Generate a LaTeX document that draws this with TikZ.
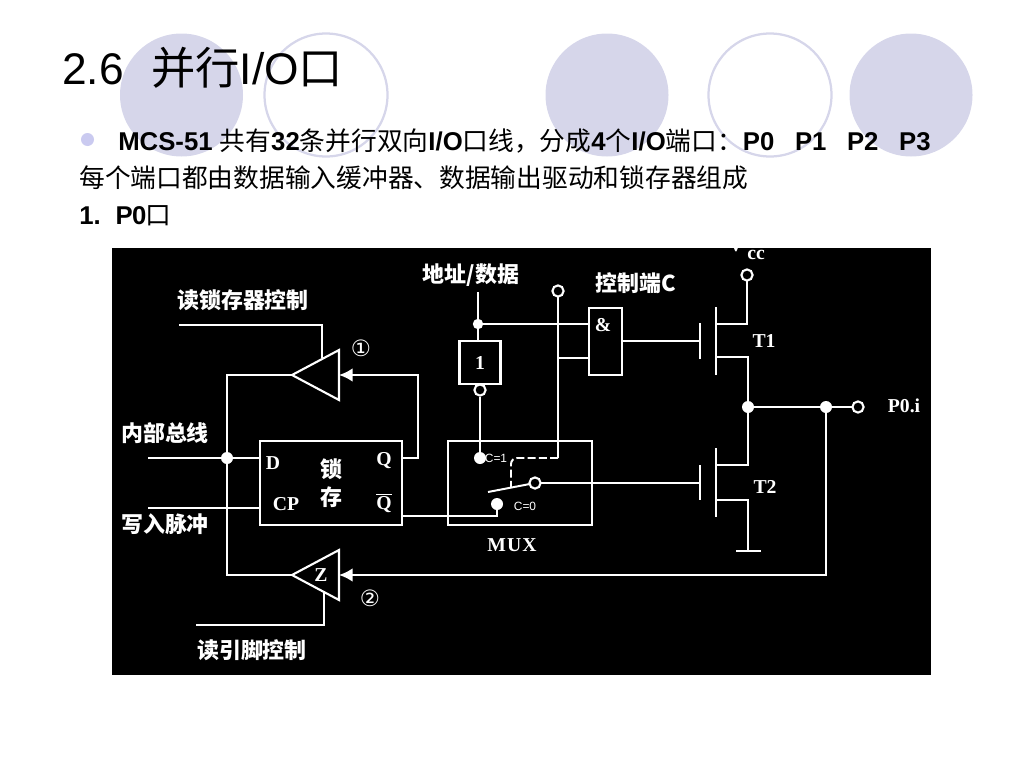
\documentclass[tikz,border=0pt]{standalone}
\usepackage{fontspec}
\usetikzlibrary{arrows.meta,shapes.geometric}
\setmainfont{Liberation Sans}
\newfontfamily\cjk{Noto Sans CJK SC}
\newfontfamily\wiring{Liberation Serif}
\definecolor{deco}{RGB}{214,214,234}
\definecolor{bulletc}{RGB}{202,202,240}
\newcommand{\titlefont}{\fontsize{31.5pt}{34pt}\selectfont}
\newcommand{\bodyfont}{\fontsize{18.3pt}{20pt}\selectfont}
\tikzset{
  wire/.style={draw=white,line width=1.4pt},
  box/.style={draw=white,line width=1.5pt,inner sep=0pt,outer sep=0pt},
  buffer/.style={box,isosceles triangle,isosceles triangle stretches,shape border rotate=180,
    minimum width=12.5mm,minimum height=11.75mm},
  term/.style={circle,draw=white,fill=black,line width=1.5pt,minimum size=2.8mm,inner sep=0pt,outer sep=0pt},
  dot/.style={circle,fill=white,minimum size=3mm,inner sep=0pt,outer sep=0pt},
  slide/.style={anchor=base west,inner sep=0pt,text=black},
  cnlabel/.style={text=white,inner sep=0pt,font=\cjk\bfseries\fontsize{15.6pt}{16pt}\selectfont},
  serif/.style={text=white,inner sep=0pt,font=\wiring\bfseries\fontsize{14pt}{15pt}\selectfont},
  small/.style={text=white,inner sep=0pt,font=\fontsize{8.5pt}{9pt}\selectfont},
  ringed/.style={text=white,inner sep=0pt,font=\fontsize{16pt}{17pt}\selectfont\fontspec{DejaVu Sans}},
  arrowin/.style={-{Latex[length=3.4mm,width=3.4mm]}}
}
\begin{document}
\begin{tikzpicture}[x=0.25mm,y=-0.25mm]
  \useasboundingbox (0,0) rectangle (1024,768);
  % Decoration of the slide
  \fill[deco] (181.5,95) circle (61.5);
  \draw[deco,line width=1.6pt] (326,95) circle (61.5);
  \fill[deco] (607,95) circle (61.5);
  \draw[deco,line width=1.6pt] (770,95) circle (61.5);
  \fill[deco] (911,95) circle (61.5);
  \fill[bulletc] (87.5,139.5) circle (6.5);

  % Slide text
  \node[slide,font=\titlefont] (title) at (62,84) {2.6\hspace{0.62em}{\cjk 并行}I/O{\cjk 口}};
  \node[slide,font=\bodyfont\bfseries] (line1) at (118,150) {MCS-51 {\cjk\mdseries 共有}32{\cjk\mdseries 条并行双向}I/O{\cjk\mdseries 口线，分成}4{\cjk\mdseries 个}I/O{\cjk\mdseries 端口：}P0\hspace{0.8em}P1\hspace{0.8em}P2\hspace{0.8em}P3};
  \node[slide,font=\bodyfont\cjk] (line2) at (79,187) {每个端口都由数据输入缓冲器、数据输出驱动和锁存器组成};
  \node[slide,font=\bodyfont\bfseries] (line3) at (79,224) {1.\hspace{0.58em}P\kern-0.5pt 0{\cjk\mdseries\kern-0.5pt 口}};

  % Black panel of the circuit
  \fill[black] (112,248) rectangle (931,675);

  % Blocks
  \node[box,minimum width=35.5mm,minimum height=21mm] (latch) at (331,483) {};
  \node[box,minimum width=36mm,minimum height=21mm] (mux) at (520,483) {};
  \node[box,minimum width=10.25mm,minimum height=10.75mm,text=white,font=\wiring\bfseries\fontsize{14pt}{15pt}\selectfont] (inv) at (480,362.5) {1};
  \node[box,minimum width=8.25mm,minimum height=16.75mm] (andg) at (605.5,341.5) {};
  \node[buffer] (bufa) at (324,375) {};
  \node[buffer] (bufb) at (324,575) {};

  % Dots and terminals
  \node[dot] (busdot) at (227,458) {};
  \node[dot,minimum size=2.6mm] (addrdot) at (478,324) {};
  \node[circle,draw=white,line width=1.5pt,minimum size=2.8mm,inner sep=0pt] (bubble) at (480,390) {};
  \node[dot] (cone) at (480,458) {};
  \node[dot] (czero) at (497,504) {};
  \node[term] (ctrl) at (558,291) {};
  \node[term] (swpole) at (535,483) {};
  \node[term] (vcc) at (747,275) {};
  \node[dot] (middot) at (748,407) {};
  \node[dot] (outdot) at (826,407) {};
  \node[term] (pin) at (858,407) {};

  % Free ends and corners
  \coordinate (rlstart) at (179,325);
  \coordinate (rlend) at (322,358);
  \coordinate (rpstart) at (196,625);
  \coordinate (rpend) at (324,592);
  \coordinate (busin) at (148,458);
  \coordinate (cpin) at (148,508);
  \coordinate (latchd) at (260,458);
  \coordinate (latchcp) at (260,508);
  \coordinate (latchq) at (402,458);
  \coordinate (latchnq) at (402,516);
  \coordinate (andin) at (589,324);
  \coordinate (andlow) at (589,358);
  \coordinate (ctrljoin) at (558,358);
  \coordinate (ctrlend) at (558,458);
  \coordinate (swfree) at (488,492);
  \coordinate (swblade) at (511,487);

  % MOS transistors
  \coordinate (tagate) at (700,341);
  \coordinate (tbgate) at (700,483);
  \draw[wire,line width=1.8pt] (700,323) -- (700,359); % gate T1
  \draw[wire,line width=1.8pt] (716,307) -- (716,375); % channel T1
  \draw[wire,line width=1.8pt] (700,465) -- (700,500); % gate T2
  \draw[wire,line width=1.8pt] (716,448) -- (716,517); % channel T2
  \coordinate (tas) at (716,324);
  \coordinate (tad) at (716,357);
  \coordinate (tbs) at (716,465);
  \coordinate (tbd) at (716,500);
  \coordinate (gnd) at (748,551);

  % Connectors
  \draw[wire] (rlstart) -| (rlend);
  \draw[wire] (rpstart) -| (rpend);
  \draw[wire] (bufa.apex) -| (busdot);
  \draw[wire] (busdot) |- (bufb.apex);
  \draw[wire] (busin) -- (busdot);
  \draw[wire] (busdot) -- (latchd);
  \draw[wire] (cpin) -- (latchcp);
  \draw[wire,arrowin] (latchq) -| (418,375) -- (bufa.lower side);
  \draw[wire] (latchnq) -| (czero);
  \draw[wire,arrowin] (outdot) |- (bufb.lower side);

  \draw[wire] (478,292) -- (addrdot);
  \draw[wire] (addrdot) -- (inv.north -| addrdot);
  \draw[wire] (addrdot) -- (andin);
  \draw[wire] (inv.south -| bubble) -- (bubble);
  \draw[wire] (bubble) -- (cone);
  \draw[wire] (ctrl) -- (ctrlend);
  \draw[wire] (ctrljoin) -- (andlow);
  \draw[wire,dashed,rounded corners=1.5mm,dash pattern=on 2mm off 0.8mm] (ctrlend) -| (swblade);
  \draw[wire] (swfree) -- (swpole);
  \draw[wire] (swpole) -- (tbgate);
  \draw[wire] (andg.east |- tagate) -- (tagate);

  \draw[wire] (vcc) |- (tas);
  \draw[wire] (tad) -| (middot);
  \draw[wire] (middot) |- (tbs);
  \draw[wire] (tbd) -| (gnd);
  \draw[wire,line width=1.6pt] (736,551) -- (761,551);
  \draw[wire] (middot) -- (outdot);
  \draw[wire] (outdot) -- (pin);

  % Labels of the circuit
  \node[cnlabel] (lblrl) at (243,300) {读锁存器控制};
  \node[cnlabel] (lblbus) at (165,433) {内部总线};
  \node[cnlabel] (lblwr) at (165,524) {写入脉冲};
  \node[cnlabel] (lblrp) at (252,650) {读引脚控制};
  \node[cnlabel] (lbladdr) at (471,275) {地址/数据};
  \node[cnlabel] (lblc) at (636,283) {控制端C};
  \node[cnlabel] (lbllocka) at (331,469) {锁};
  \node[cnlabel] (lbllockb) at (331,497) {存};
  \node[serif] (lbld) at (273,463) {D};
  \node[serif] (lblcp) at (286,504) {CP};
  \node[serif] (lblq) at (384,461) {Q};
  \node[serif] (lblnq) at (384,503) {$\overline{\mbox{Q}}$};
  \node[serif] (lblz) at (321,575) {Z};
  \node[serif] (lbland) at (603,325) {\&};
  \node[serif] (lblmux) at (512,545) {M\kern0.8pt U\kern0.8pt X};
  \node[serif] (lblta) at (764,341) {T1};
  \node[serif] (lbltb) at (765,487) {T2};
  \node[serif] (lblpin) at (904,406) {P0.i};
  \node[serif] (lblcc) at (756,255) {cc};
  \begin{scope}
    \clip (112,248) rectangle (931,675);
    \node[serif] (lblv) at (736,245) {V};
  \end{scope}
  \node[small] (lblcone) at (496,458) {C=1};
  \node[small] (lblczero) at (525,506) {C=0};
  \node[ringed] (lblone) at (361,348) {①};
  \node[ringed] (lbltwo) at (370,598) {②};
\end{tikzpicture}
\end{document}
